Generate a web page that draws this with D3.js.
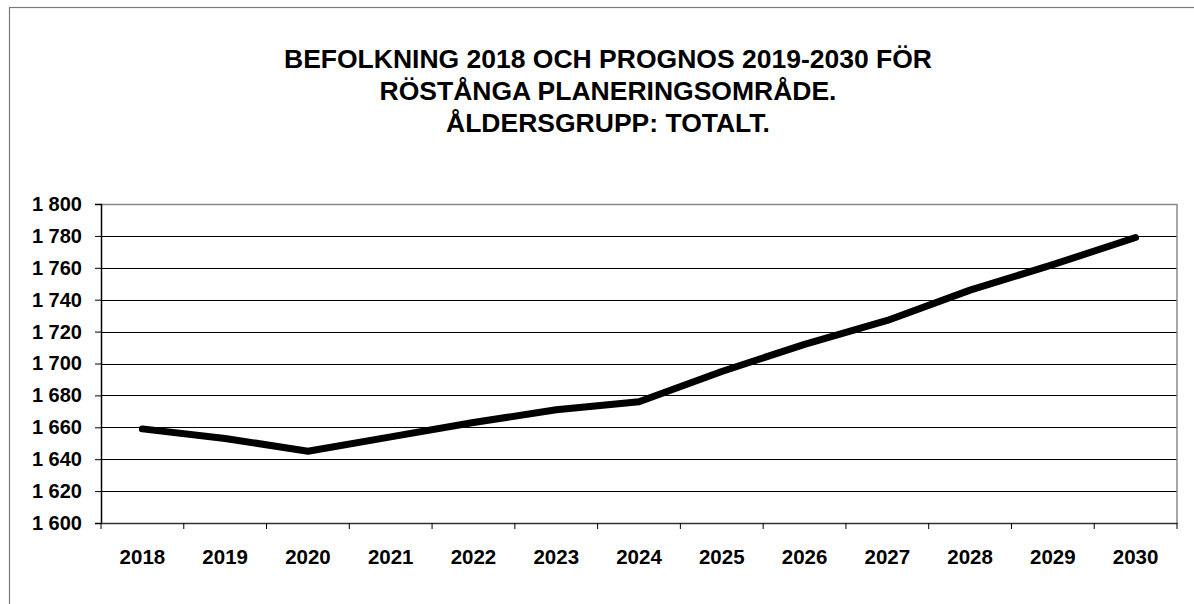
<!DOCTYPE html>
<html>
<head>
<meta charset="utf-8">
<script src="https://cdn.jsdelivr.net/npm/d3@7"></script>
<style>
  body { margin: 0; background: #fff; }
  svg text { font-family: "Liberation Sans", Arial, sans-serif; font-weight: bold; fill: #000; }
</style>
</head>
<body>
<svg id="chart" width="1194" height="604"></svg>
<script>
// population data, Röstånga planeringsområde
var years = ['2018', '2019', '2020', '2021', '2022', '2023', '2024', '2025', '2026', '2027', '2028', '2029', '2030'];
var totals = [1659, 1653, 1645, 1654, 1663, 1671, 1676, 1695, 1712, 1727, 1746, 1762, 1779];
var yTicks = [1600, 1620, 1640, 1660, 1680, 1700, 1720, 1740, 1760, 1780, 1800];
var titleLines = ['BEFOLKNING 2018 OCH PROGNOS 2019-2030 FÖR', 'RÖSTÅNGA PLANERINGSOMRÅDE.', 'ÅLDERSGRUPP: TOTALT.'];

function drawChart() {
  var svg = d3.select('#chart');
  var plotLeft = 101, plotRight = 1177, plotTop = 204, plotBottom = 523;

  // outer chart frame (extends past the window)
  svg.append('rect')
    .attr('x', 9.5).attr('y', 7.5)
    .attr('width', 1300).attr('height', 700)
    .attr('fill', 'none').attr('stroke', '#7a7a7a').attr('stroke-width', 1.2);

  svg.selectAll('.title')
    .data(titleLines)
    .enter()
    .append('text')
    .attr('x', 608)
    .attr('y', function(d, i) { return 68 + i * 32; })
    .attr('text-anchor', 'middle')
    .style('font-size', '26.5px')
    .text(function(d) { return d; });

  var x = d3.scaleBand().domain(years).range([plotLeft, plotRight]);
  var y = d3.scaleLinear().domain([1600, 1800]).range([plotBottom, plotTop]);

  var fmt = d3.formatLocale({ decimal: ',', thousands: ' ', grouping: [3], currency: ['', ''] }).format(',d');

  // gridlines
  svg.selectAll('.grid')
    .data(yTicks.slice(1, -1))
    .enter()
    .append('line')
    .attr('x1', plotLeft).attr('x2', plotRight)
    .attr('y1', function(d) { return Math.round(y(d)) + 0.5; })
    .attr('y2', function(d) { return Math.round(y(d)) + 0.5; })
    .attr('stroke', '#000').attr('stroke-width', 1);

  // top + right border of plot area
  svg.append('path')
    .attr('d', 'M' + plotLeft + ',' + (plotTop + 0.5) + 'H' + plotRight + 'V' + plotBottom)
    .attr('fill', 'none').attr('stroke', '#8a8a8a').attr('stroke-width', 1.5);

  // y axis
  var yAxis = svg.append('g')
    .attr('transform', 'translate(' + plotLeft + ',0)')
    .call(d3.axisLeft(y).tickValues(yTicks).tickFormat(fmt).tickSize(6).tickPadding(13));
  yAxis.select('.domain').attr('stroke', '#000').attr('stroke-width', 1.5);
  yAxis.selectAll('.tick line').attr('stroke', '#000');
  yAxis.selectAll('text').style('font-size', '20px').attr('font-family', null);

  // x axis, ticks between categories
  var xAxis = svg.append('g')
    .attr('transform', 'translate(0,' + plotBottom + ')')
    .call(d3.axisBottom(x).tickSize(0).tickPadding(26));
  xAxis.select('.domain').attr('stroke', '#333').attr('stroke-width', 1.5);
  xAxis.selectAll('text').style('font-size', '20.5px').attr('font-family', null);
  xAxis.selectAll('.sep')
    .data(d3.range(years.length + 1))
    .enter()
    .append('line')
    .attr('x1', function(i) { return i < years.length ? x(years[i]) : plotRight; })
    .attr('x2', function(i) { return i < years.length ? x(years[i]) : plotRight; })
    .attr('y1', 0).attr('y2', 6)
    .attr('stroke', '#000');

  // data line
  var line = d3.line()
    .x(function(d, i) { return x(years[i]) + x.bandwidth() / 2; })
    .y(function(d) { return y(d); });

  svg.append('path')
    .datum(totals)
    .attr('d', line)
    .attr('fill', 'none')
    .attr('stroke', '#000')
    .attr('stroke-width', 7)
    .attr('stroke-linecap', 'round')
    .attr('stroke-linejoin', 'round');
}
drawChart();
</script>
</body>
</html>
